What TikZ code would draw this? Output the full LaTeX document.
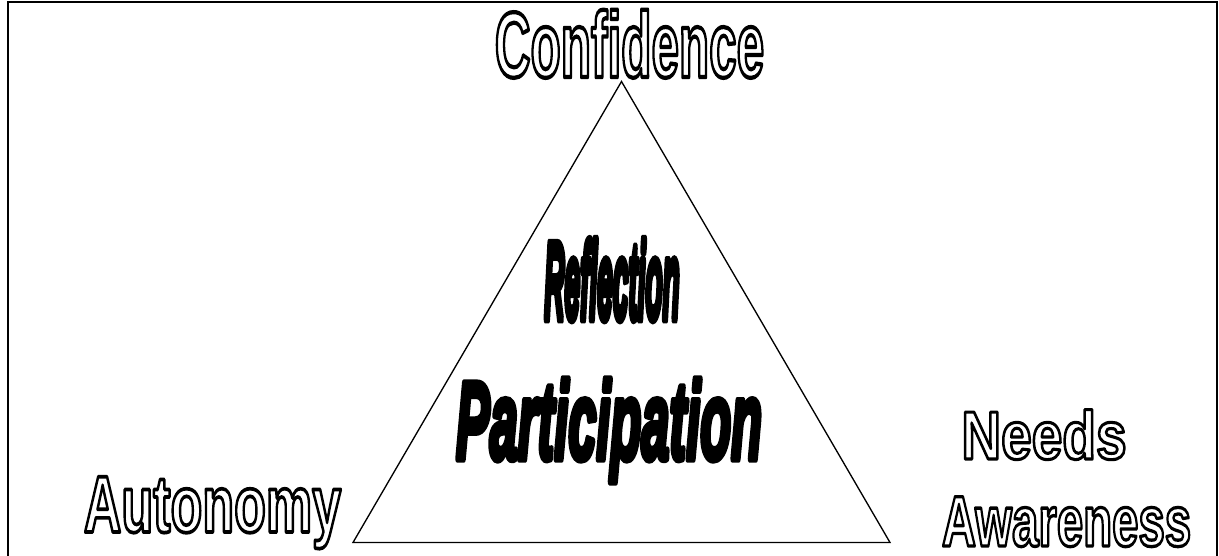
\documentclass[tikz,border=0pt]{standalone}
\usepackage{fontspec}
\setmainfont{Liberation Sans}
\newfontfamily\outlinefont{Liberation Sans Bold}
\newfontfamily\heavyfont{Liberation Sans Bold Italic}

% hollow letters: stroke the glyph outlines only (text render mode 1)
\newcommand{\hollowtext}[3]{\resizebox{#1}{#2}{\outlinefont\fontsize{48pt}{48pt}\selectfont
  \special{pdf:literal direct 1 Tr 2.2 w 1 j}#3\special{pdf:literal direct 0 Tr}}}
% heavy letters: fill and stroke (render mode 2), stretched upwards
% #3 font size, #4 stroke width
\newcommand{\heavytext}[5]{\resizebox{#1}{#2}{\heavyfont\fontsize{#3}{#3}\selectfont
  \special{pdf:literal direct 2 Tr #4 w 1 j}#5\special{pdf:literal direct 0 Tr}}}

\tikzset{every picture/.style={line width=0.75pt}}

\begin{document}
\begin{tikzpicture}[x=0.75pt,y=0.75pt,yscale=-1,xscale=1]
        \useasboundingbox (0,0) rectangle (1219,556);

        %Frame
        \draw [line width=1.5]  (8,2.5) rectangle (1216.5,560) ;

        %Shape: Triangle
        \coordinate (apex) at (621.5,81.5);
        \coordinate (left) at (353,542.5);
        \coordinate (right) at (890,542.5);
        \draw [line width=1]  (apex) -- (right) -- (left) -- cycle ;

        % Text Node
        \draw (629.5,77) node (confidence) [anchor=base][inner sep=0pt] {\hollowtext{202pt}{50.5pt}{Confidence}};
        % Text Node
        \draw (212.5,532) node (autonomy) [anchor=base][inner sep=0pt] {\hollowtext{193pt}{41.5pt}{Autonomy}};
        % Text Node
        \draw (1044,459) node (needs) [anchor=base][inner sep=0pt] {\hollowtext{124pt}{37pt}{Needs}};
        % Text Node
        \draw (1066.5,546) node (awareness) [anchor=base][inner sep=0pt] {\hollowtext{187pt}{37pt}{Awareness}};
        % Text Node
        \draw (612,318.5) node (reflection) [anchor=base][inner sep=0pt] {\heavytext{101.5pt}{59pt}{22pt}{2.0}{Reflection}};
        % Text Node
        \draw (609,459) node (participation) [anchor=base][inner sep=0pt] {\heavytext{229.5pt}{60pt}{38pt}{2.5}{Participation}};
\end{tikzpicture}
\end{document}
